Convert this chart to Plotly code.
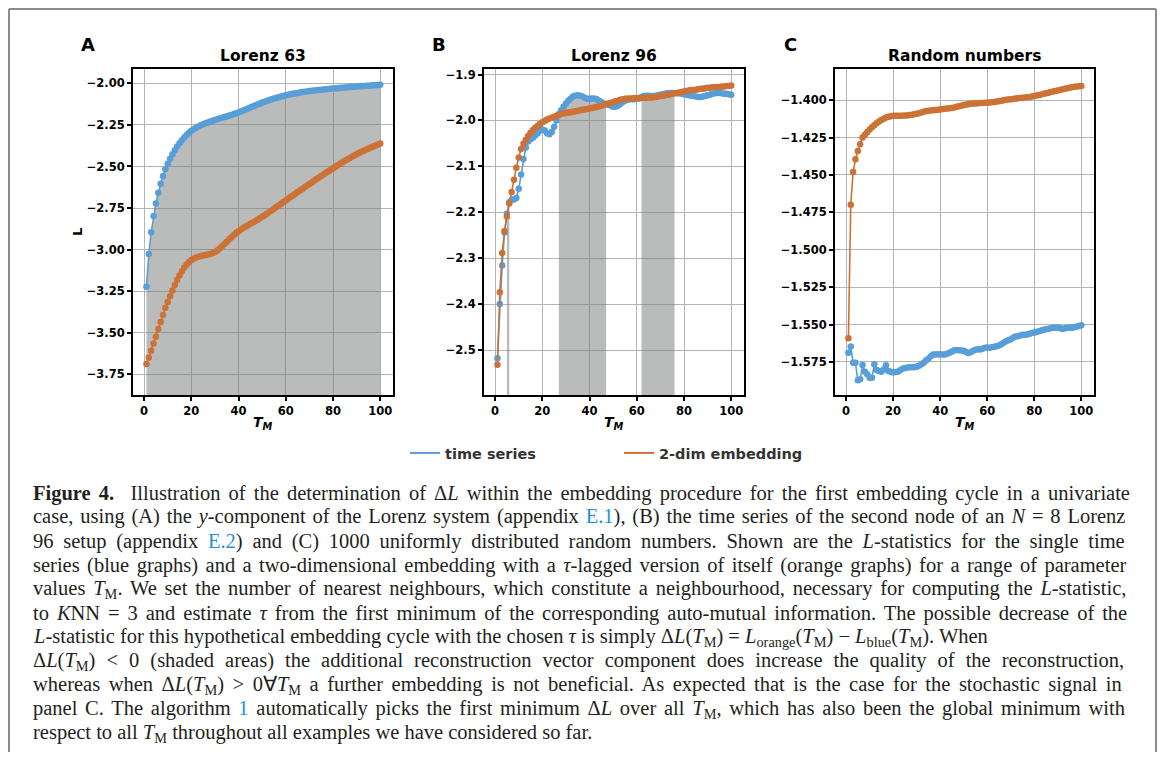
import plotly.graph_objects as go

OFF = 8  # browser body margin
W, H = 1165 - 2 * OFF, 760 - 2 * OFF  # keep the page free of scrollbars

T_M = list(range(1, 101))

# ---------------- Panel A: Lorenz 63 ----------------
lorenz63_time_series = [
    -3.223, -3.026, -2.896, -2.798, -2.722, -2.658, -2.604, -2.557, -2.517, -2.483,
    -2.453, -2.426, -2.402, -2.380, -2.360, -2.342, -2.326, -2.311, -2.298, -2.286,
    -2.276, -2.267, -2.259, -2.252, -2.246, -2.240, -2.235, -2.230, -2.225, -2.220,
    -2.216, -2.212, -2.207, -2.203, -2.199, -2.194, -2.190, -2.185, -2.180, -2.175,
    -2.169, -2.164, -2.158, -2.152, -2.146, -2.140, -2.134, -2.128, -2.122, -2.116,
    -2.111, -2.106, -2.101, -2.096, -2.092, -2.088, -2.084, -2.080, -2.076, -2.072,
    -2.069, -2.066, -2.063, -2.060, -2.058, -2.056, -2.053, -2.051, -2.049, -2.047,
    -2.045, -2.043, -2.042, -2.040, -2.039, -2.037, -2.036, -2.034, -2.033, -2.031,
    -2.030, -2.029, -2.027, -2.026, -2.025, -2.024, -2.022, -2.021, -2.020, -2.019,
    -2.018, -2.017, -2.016, -2.015, -2.014, -2.013, -2.012, -2.011, -2.010, -2.009,
]
lorenz63_embedding = [
    -3.688, -3.648, -3.608, -3.564, -3.524, -3.477, -3.435, -3.393, -3.350, -3.315,
    -3.281, -3.245, -3.212, -3.182, -3.155, -3.130, -3.108, -3.090, -3.075, -3.063,
    -3.055, -3.048, -3.043, -3.039, -3.036, -3.033, -3.030, -3.026, -3.021, -3.014,
    -3.005, -2.993, -2.980, -2.966, -2.952, -2.938, -2.925, -2.912, -2.900, -2.889,
    -2.879, -2.870, -2.861, -2.853, -2.845, -2.837, -2.829, -2.821, -2.812, -2.803,
    -2.794, -2.784, -2.774, -2.764, -2.754, -2.744, -2.734, -2.724, -2.714, -2.704,
    -2.694, -2.684, -2.674, -2.664, -2.654, -2.644, -2.635, -2.625, -2.615, -2.605,
    -2.596, -2.586, -2.576, -2.567, -2.557, -2.548, -2.538, -2.529, -2.519, -2.510,
    -2.501, -2.492, -2.483, -2.474, -2.466, -2.458, -2.450, -2.442, -2.434, -2.426,
    -2.419, -2.412, -2.405, -2.398, -2.392, -2.386, -2.380, -2.374, -2.368, -2.362,
]

# ---------------- Panel B: Lorenz 96 ----------------
lorenz96_time_series = [
    -2.518, -2.400, -2.316, -2.244, -2.203, -2.178, -2.173, -2.172, -2.169, -2.149,
    -2.118, -2.084, -2.059, -2.046, -2.041, -2.038, -2.033, -2.028, -2.022, -2.020,
    -2.022, -2.028, -2.030, -2.025, -2.014, -2.000, -1.986, -1.978, -1.970, -1.963,
    -1.957, -1.952, -1.948, -1.946, -1.945, -1.946, -1.948, -1.951, -1.953, -1.953,
    -1.952, -1.952, -1.954, -1.957, -1.960, -1.963, -1.964, -1.966, -1.968, -1.970,
    -1.970, -1.968, -1.964, -1.960, -1.957, -1.955, -1.954, -1.954, -1.954, -1.953,
    -1.952, -1.949, -1.947, -1.946, -1.946, -1.947, -1.947, -1.946, -1.945, -1.944,
    -1.943, -1.942, -1.941, -1.940, -1.940, -1.940, -1.941, -1.941, -1.942, -1.943,
    -1.944, -1.945, -1.946, -1.947, -1.948, -1.949, -1.949, -1.948, -1.947, -1.945,
    -1.944, -1.942, -1.941, -1.940, -1.940, -1.941, -1.942, -1.942, -1.943, -1.944,
]
lorenz96_embedding = [
    -2.532, -2.374, -2.289, -2.241, -2.209, -2.181, -2.156, -2.129, -2.103, -2.081,
    -2.062, -2.051, -2.042, -2.034, -2.027, -2.021, -2.016, -2.012, -2.008, -2.004,
    -2.001, -1.998, -1.996, -1.994, -1.992, -1.990, -1.988, -1.986, -1.985, -1.984,
    -1.983, -1.982, -1.981, -1.980, -1.979, -1.978, -1.977, -1.976, -1.975, -1.974,
    -1.973, -1.972, -1.971, -1.969, -1.968, -1.966, -1.965, -1.963, -1.962, -1.960,
    -1.958, -1.957, -1.955, -1.954, -1.953, -1.952, -1.952, -1.952, -1.951, -1.951,
    -1.951, -1.951, -1.951, -1.951, -1.950, -1.950, -1.950, -1.949, -1.948, -1.947,
    -1.946, -1.945, -1.944, -1.943, -1.942, -1.941, -1.940, -1.939, -1.938, -1.937,
    -1.936, -1.935, -1.934, -1.934, -1.933, -1.932, -1.931, -1.931, -1.930, -1.929,
    -1.929, -1.928, -1.928, -1.927, -1.927, -1.926, -1.926, -1.925, -1.925, -1.924,
]

# ---------------- Panel C: Random numbers ----------------
random_time_series = [
    -1.5688, -1.5647, -1.5755, -1.5755, -1.5873, -1.5866, -1.5770, -1.5815, -1.5833, -1.5855,
    -1.5855, -1.5766, -1.5804, -1.5810, -1.5815, -1.5800, -1.5772, -1.5810, -1.5815, -1.5820,
    -1.5818, -1.5815, -1.5805, -1.5795, -1.5790, -1.5787, -1.5785, -1.5785, -1.5785, -1.5782,
    -1.5775, -1.5765, -1.5755, -1.5740, -1.5728, -1.5712, -1.5700, -1.5700, -1.5698, -1.5700,
    -1.5700, -1.5700, -1.5695, -1.5688, -1.5680, -1.5672, -1.5670, -1.5672, -1.5674, -1.5676,
    -1.5684, -1.5690, -1.5685, -1.5676, -1.5668, -1.5665, -1.5667, -1.5662, -1.5656, -1.5654,
    -1.5655, -1.5652, -1.5648, -1.5645, -1.5640, -1.5632, -1.5622, -1.5612, -1.5605, -1.5598,
    -1.5588, -1.5580, -1.5578, -1.5574, -1.5569, -1.5568, -1.5566, -1.5562, -1.5557, -1.5553,
    -1.5550, -1.5545, -1.5540, -1.5535, -1.5531, -1.5528, -1.5525, -1.5522, -1.5521, -1.5520,
    -1.5525, -1.5530, -1.5525, -1.5522, -1.5520, -1.5521, -1.5518, -1.5515, -1.5510, -1.5504,
]
random_embedding = [
    -1.5591, -1.4700, -1.4480, -1.4396, -1.4340, -1.4295, -1.4250, -1.4232, -1.4215, -1.4197,
    -1.4182, -1.4168, -1.4155, -1.4143, -1.4133, -1.4124, -1.4117, -1.4111, -1.4107, -1.4105,
    -1.4104, -1.4104, -1.4104, -1.4104, -1.4103, -1.4102, -1.4100, -1.4098, -1.4095, -1.4091,
    -1.4087, -1.4082, -1.4077, -1.4073, -1.4071, -1.4069, -1.4068, -1.4066, -1.4064, -1.4062,
    -1.4060, -1.4058, -1.4056, -1.4054, -1.4052, -1.4049, -1.4045, -1.4041, -1.4037, -1.4033,
    -1.4030, -1.4027, -1.4025, -1.4023, -1.4022, -1.4021, -1.4020, -1.4019, -1.4018, -1.4017,
    -1.4016, -1.4014, -1.4012, -1.4010, -1.4007, -1.4004, -1.4001, -1.3998, -1.3996, -1.3994,
    -1.3992, -1.3990, -1.3988, -1.3986, -1.3985, -1.3983, -1.3981, -1.3979, -1.3976, -1.3973,
    -1.3969, -1.3965, -1.3962, -1.3958, -1.3954, -1.3950, -1.3946, -1.3942, -1.3939, -1.3936,
    -1.3932, -1.3928, -1.3924, -1.3920, -1.3917, -1.3914, -1.3911, -1.3909, -1.3907, -1.3905,
]

panel_titles = ["Lorenz 63", "Lorenz 96", "Random numbers"]
panel_letters = ["A", "B", "C"]
legend_labels = ["time series", "2-dim embedding"]
x_ticks = [0, 20, 40, 60, 80, 100]
y_ticks_A = [-2.00, -2.25, -2.50, -2.75, -3.00, -3.25, -3.50, -3.75]
y_ticks_B = [-1.9, -2.0, -2.1, -2.2, -2.3, -2.4, -2.5]
y_ticks_C = [-1.400, -1.425, -1.450, -1.475, -1.500, -1.525, -1.550, -1.575]

# ---------------- styling / layout ----------------
BLUE = "rgb(88,158,216)"
ORANGE = "rgb(205,114,54)"
FILL = "rgba(118,122,120,0.5)"

panels = [
    dict(ts=lorenz63_time_series, emb=lorenz63_embedding, yt=y_ticks_A, fmt=".2f",
         xpx=(133, 393), yr=(-3.874, -1.914)),
    dict(ts=lorenz96_time_series, emb=lorenz96_embedding, yt=y_ticks_B, fmt=".1f",
         xpx=(484, 744), yr=(-2.598, -1.888)),
    dict(ts=random_time_series, emb=random_embedding, yt=y_ticks_C, fmt=".3f",
         xpx=(835, 1094), yr=(-1.5971, -1.3792)),
]
YPX = (69, 395)
XR = (-4.7, 105.4)


def px(x):
    """page pixel x -> paper fraction"""
    return (x - OFF) / W


def py(y):
    """page pixel y -> paper fraction"""
    return 1 - (y - OFF) / H


fig = go.Figure()
tickfont = dict(family="DejaVu Sans", size=11.5, color="black", weight="bold")

for i, p in enumerate(panels):
    ax = "" if i == 0 else str(i + 1)
    xref, yref = "x" + ax, "y" + ax
    ts, emb = p["ts"], p["emb"]
    bottom = p["yr"][0]
    # shaded where Delta L = L_orange - L_blue < 0
    mask = [e < t for e, t in zip(emb, ts)]
    runs, start = [], None
    for k, m in enumerate(mask + [False]):
        if m and start is None:
            start = k
        elif not m and start is not None:
            runs.append((start, k - 1))
            start = None
    for a, b in runs:
        if b == a:
            continue  # a single point spans no area
        xs = T_M[a:b + 1]
        ys = ts[a:b + 1]
        fig.add_trace(go.Scatter(
            x=xs + xs[::-1], y=ys + [bottom] * len(ys), fill="toself",
            fillcolor=FILL, line=dict(width=0), mode="lines",
            hoverinfo="skip", showlegend=False, xaxis=xref, yaxis=yref))
    fig.add_trace(go.Scatter(
        x=T_M, y=ts, mode="lines+markers", line=dict(color=BLUE, width=1.6),
        marker=dict(color=BLUE, size=6.5), showlegend=False, xaxis=xref, yaxis=yref))
    fig.add_trace(go.Scatter(
        x=T_M, y=emb, mode="lines+markers", line=dict(color=ORANGE, width=1.6),
        marker=dict(color=ORANGE, size=6.5), showlegend=False, xaxis=xref, yaxis=yref))

    axis_common = dict(showline=True, linecolor="black", linewidth=2, mirror=True,
                       ticks="outside", ticklen=4, tickwidth=1.5, tickcolor="black",
                       showgrid=True, gridcolor="#b4b4b4", gridwidth=1,
                       zeroline=False, tickfont=tickfont)
    fig.update_layout(**{
        "xaxis" + ax: dict(domain=[px(p["xpx"][0]), px(p["xpx"][1])], range=list(XR),
                           tickvals=x_ticks, anchor="y" + ax, **axis_common),
        "yaxis" + ax: dict(domain=[py(YPX[1]), py(YPX[0])], range=list(p["yr"]),
                           tickvals=p["yt"], tickformat=p["fmt"], anchor="x" + ax,
                           **axis_common),
    })
    cx = (p["xpx"][0] + p["xpx"][1]) / 2
    fig.add_annotation(x=px(cx), y=py(56), xref="paper", yref="paper",
                       xanchor="center", yanchor="middle",
                       text="<b>" + panel_titles[i] + "</b>", showarrow=False,
                       font=dict(family="DejaVu Sans", size=15.5, color="black"))
    fig.add_annotation(x=px(cx), y=py(423), xref="paper", yref="paper",
                       xanchor="center", yanchor="middle",
                       text="<b><i>T</i><sub><i>M</i></sub></b>", showarrow=False,
                       font=dict(family="DejaVu Sans", size=14, color="black"))
    fig.add_annotation(x=px(p["xpx"][0] - 45), y=py(45), xref="paper", yref="paper",
                       xanchor="center", yanchor="middle",
                       text="<b>" + panel_letters[i] + "</b>", showarrow=False,
                       font=dict(family="DejaVu Sans", size=18, color="black"))

fig.add_annotation(x=px(78), y=py(232), xref="paper", yref="paper", text="<b>L</b>",
                   xanchor="center", yanchor="middle",
                   textangle=-90, showarrow=False,
                   font=dict(family="DejaVu Sans", size=13, color="black"))

# legend entries
fig.add_trace(go.Scatter(x=[None], y=[None], mode="lines", name=legend_labels[0],
                         line=dict(color=BLUE, width=2)))
fig.add_trace(go.Scatter(x=[None], y=[None], mode="lines", name=legend_labels[1],
                         line=dict(color=ORANGE, width=2)))

# caption
LINK = "rgb(30,144,220)"
caption_lines = [
    "<b>Figure 4.</b>  Illustration of the determination of Δ<i>L</i> within the embedding procedure for the first embedding cycle in a univariate",
    "case, using (A) the <i>y</i>-component of the Lorenz system (appendix <span style='color:" + LINK + "'>E.1</span>), (B) the time series of the second node of an <i>N</i> = 8 Lorenz",
    "96 setup (appendix <span style='color:" + LINK + "'>E.2</span>) and (C) 1000 uniformly distributed random numbers. Shown are the <i>L</i>-statistics for the single time",
    "series (blue graphs) and a two-dimensional embedding with a <i>τ</i>-lagged version of itself (orange graphs) for a range of parameter",
    "values <i>T</i><sub>M</sub>. We set the number of nearest neighbours, which constitute a neighbourhood, necessary for computing the <i>L</i>-statistic,",
    "to <i>K</i>NN = 3 and estimate <i>τ</i> from the first minimum of the corresponding auto-mutual information. The possible decrease of the",
    "<i>L</i>-statistic for this hypothetical embedding cycle with the chosen <i>τ</i> is simply Δ<i>L</i>(<i>T</i><sub>M</sub>) = <i>L</i><sub>orange</sub>(<i>T</i><sub>M</sub>) − <i>L</i><sub>blue</sub>(<i>T</i><sub>M</sub>). When",
    "Δ<i>L</i>(<i>T</i><sub>M</sub>) &lt; 0 (shaded areas) the additional reconstruction vector component does increase the quality of the reconstruction,",
    "whereas when Δ<i>L</i>(<i>T</i><sub>M</sub>) &gt; 0∀<i>T</i><sub>M</sub> a further embedding is not beneficial. As expected that is the case for the stochastic signal in",
    "panel C. The algorithm <span style='color:" + LINK + "'>1</span> automatically picks the first minimum Δ<i>L</i> over all <i>T</i><sub>M</sub>, which has also been the global minimum with",
    "respect to all <i>T</i><sub>M</sub> throughout all examples we have considered so far.",
]
# extra word spacing (px) per caption line to imitate the justified block
caption_word_spacing = [3.0, 1.7, 4.6, 2.3, 2.7, 2.8, 0, 5.9, 3.4, 2.6, 0]
for j, line in enumerate(caption_lines):
    ws = caption_word_spacing[j]
    txt = "<span style='word-spacing:%.1fpx'>%s</span>" % (ws, line) if ws else line
    fig.add_annotation(x=px(31), y=py(493 + 24 * j), xref="paper", yref="paper",
                       xanchor="left", yanchor="middle", text=txt, showarrow=False,
                       align="left",
                       font=dict(family="Liberation Serif", size=20.5, color="#231f20"))

# page frame
frame = dict(type="line", xref="paper", yref="paper",
             line=dict(color="#8c8c8c", width=2))
fig.add_shape(x0=px(9), x1=px(9), y0=0, y1=py(9), **frame)
fig.add_shape(x0=px(9), x1=px(1156), y0=py(9), y1=py(9), **frame)
fig.add_shape(x0=px(1156), x1=px(1156), y0=py(9), y1=0, **frame)

fig.update_layout(
    width=W, height=H, margin=dict(l=0, r=0, t=0, b=0),
    paper_bgcolor="white", plot_bgcolor="white",
    showlegend=True,
    legend=dict(orientation="h", x=px(405), y=py(453), xanchor="left", yanchor="middle",
                entrywidth=169, entrywidthmode="pixels", bgcolor="rgba(0,0,0,0)",
                font=dict(family="DejaVu Sans", size=14.5, color="#333333", weight="bold")),
)

fig.write_html("out.html")
